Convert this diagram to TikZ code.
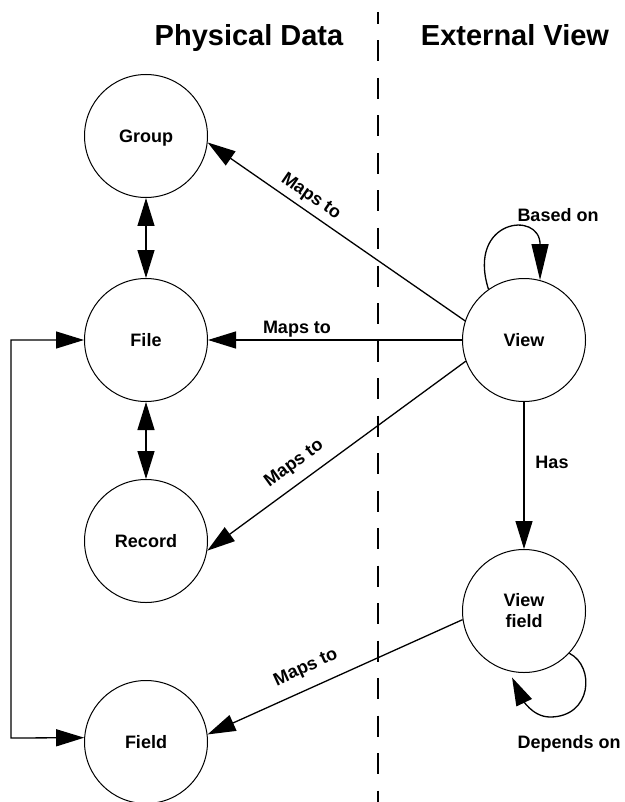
\documentclass[tikz,border=0pt]{standalone}
\usepackage{fontspec}
\setmainfont{Liberation Sans}
\usetikzlibrary{arrows.meta,calc}
\begin{document}
\begin{tikzpicture}[x=1pt,y=-1pt,
  ent/.style={circle,draw,line width=1pt,minimum size=123pt,inner sep=0pt,font=\fontsize{18}{21}\selectfont\bfseries,align=center},
  one/.style={text height=13pt,text depth=0pt},
  lbl/.style={font=\fontsize{18}{21}\selectfont\bfseries,inner sep=0pt,text height=13pt,text depth=0pt},
  ttl/.style={font=\fontsize{29}{32}\selectfont\bfseries,inner sep=0pt,text height=21pt,text depth=0pt},
  conn/.style={line width=1.3pt,-{Triangle[length=28pt,width=17pt]}},
  bidir/.style={line width=1.3pt,{Triangle[length=28pt,width=17pt]}-{Triangle[length=28pt,width=17pt]}},
  divider/.style={line width=1.8pt,dash pattern=on 21pt off 16.5pt,dash phase=9pt}
]
\useasboundingbox (0,0) rectangle (624,802);

% titles
\node[ttl] (t1) at (249,35) {Physical Data};
\node[ttl] (t2) at (515,35) {External View};

% divider
\coordinate (dtop) at (378,12);
\coordinate (dbot) at (378,802);
\draw[divider] (dtop) -- (dbot);

% entities
\node[ent,one] (group)  at (146,136) {Group};
\node[ent,one] (file)   at (146,340) {File};
\node[ent,one] (record) at (146,541) {Record};
\node[ent,one] (field)  at (146,742) {Field};
\node[ent,one] (view)   at (524,340) {View};
\node[ent]     (vf)     at (524,611) {View\\field};

% connectors
\draw[conn] (view.162) -- (group.-6);
\draw[conn] (view.180) -- (file.0);
\draw[conn] (view.200) -- (record.-9);
\draw[conn] (view.-90) -- (vf.90);
\draw[conn] (vf.188) -- (field.7);
\draw[bidir] (group.-90) -- (file.90);
\draw[bidir] (file.-90) -- (record.90);
\coordinate (lt) at (11,340);
\coordinate (lb) at (11,738);
\draw[bidir] (file.180) -- (lt) -- (lb) -- (field.176);

% self loops
\draw[line width=1.3pt,-{Triangle[length=36pt,width=17pt]}]
  (view.125) .. controls +(-22,-70) and +(0,-70) .. (view.75);
\coordinate (vfb) at (550,717);
\draw[conn,shorten >=7pt]
  (vf.-43) .. controls +(26,13) and +(42,0) .. (vfb)
  .. controls +(-18,0) and +(13,27) .. (vf.-104);

% labels
\node[lbl,rotate=-34.6] (l1) at (312,195) {Maps to};
\node[lbl] (l2) at (297,327) {Maps to};
\node[lbl,rotate=36] (l3) at (293,462) {Maps to};
\node[lbl,rotate=24.5] (l4) at (305,666) {Maps to};
\node[lbl] (l5) at (552,462) {Has};
\node[lbl] (l6) at (558,215) {Based on};
\node[lbl] (l7) at (569,742) {Depends on};
\end{tikzpicture}
\end{document}
